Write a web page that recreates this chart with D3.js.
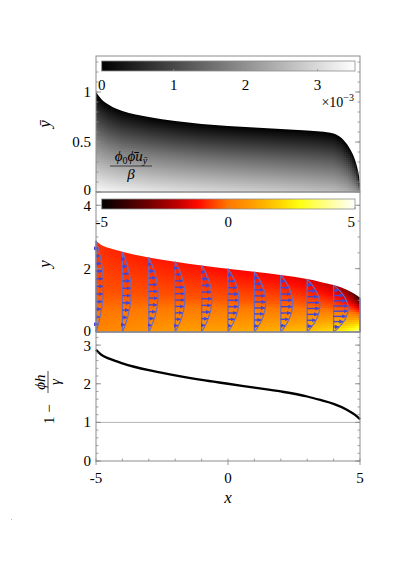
<!DOCTYPE html>
<html>
<head>
<meta charset="utf-8">
<script src="https://cdn.jsdelivr.net/npm/d3@7"></script>
<style>
  body { margin: 0; background: #fff; }
</style>
</head>
<body>
<script>
// ---- data ----

// top curve of the first panel (y-bar)
var hbarX = [-5, -4.8, -4.5, -4, -3, -2, -1, 0, 1, 2, 3, 3.5, 4, 4.3, 4.6, 4.8, 4.9, 4.95, 5];
var hbarY = [1.0, 0.93, 0.87, 0.81, 0.75, 0.71, 0.68, 0.66, 0.645, 0.63, 0.615, 0.605, 0.585, 0.54, 0.44, 0.33, 0.24, 0.18, 0.08];

// film thickness, same as 1 - phi h / gamma in the last panel
var hX = [-5, -4.8, -4.5, -4, -3, -2, -1, 0, 1, 2, 3, 3.5, 4, 4.5, 4.8, 5];
var hY = [2.88, 2.75, 2.65, 2.53, 2.35, 2.22, 2.1, 2.0, 1.9, 1.8, 1.67, 1.58, 1.48, 1.33, 1.2, 1.08];

// grey field (units of 1e-3) at bottom / middle / top of the layer
var grayX = [-5, -4, -2, 0, 2, 3, 4, 4.5, 4.8, 5];
var grayBot = [3.45, 3.3, 3.1, 2.95, 2.8, 2.7, 2.6, 2.45, 2.2, 2.0];
var grayMid = [1.85, 1.75, 1.65, 1.55, 1.45, 1.4, 1.35, 1.25, 1.1, 0.9];
var grayTop = [0, 0, 0, 0, 0, 0, 0, 0, 0, 0];

// colour field of the middle panel
var heatX = [-5, -4, -2, 0, 2, 3, 4, 4.5, 4.8, 5];
var heatBot = [0.3, 0.5, 0.9, 1.1, 1.4, 1.7, 2.3, 2.9, 3.5, 4.2];
var heatMid = [-0.45, -0.45, -0.4, -0.35, -0.3, -0.25, -0.25, -0.2, -0.1, 0];
var heatTop = [-0.8, -0.95, -1.1, -1.25, -1.4, -1.6, -2.0, -2.7, -3.5, -4.6];

// velocity profiles
var profX = [-5, -4, -3, -2, -1, 0, 1, 2, 3, 4];
var profUmax = [0.28, 0.33, 0.35, 0.37, 0.39, 0.41, 0.43, 0.45, 0.48, 0.55];
var profArrows = [11, 10, 10, 10, 9, 9, 9, 8, 8, 8];
var shapeS = [0, 0.1, 0.2, 0.3, 0.4, 0.5, 0.6, 0.7, 0.8, 0.9, 1];
var shapeU = [0, 0.36, 0.64, 0.84, 0.96, 1, 0.96, 0.84, 0.64, 0.36, 0];

// ticks
var xTicks = [-5, 0, 5];
var y1Ticks = [0, 0.5, 1];
var y2Ticks = [0, 2, 4];
var y3Ticks = [0, 1, 2, 3];
var cb1Ticks = [0, 1, 2, 3];
var cb2Ticks = [-5, 0, 5];

// ---- layout ----
var svgWidth = 399, svgHeight = 564;
var left = 96, right = 360;
var p1Top = 56, p1Bot = 192, p2Bot = 332, p3Bot = 461;
var frameColor = "#8c8c8c";
var serif = "'Liberation Serif', 'Times New Roman', 'DejaVu Serif', serif";

var svg = d3.select("body").append("svg")
  .attr("width", svgWidth)
  .attr("height", svgHeight)
  .attr("font-family", serif);

var xScale = d3.scaleLinear().domain([-5, 5]).range([left, right]);
var y1 = d3.scaleLinear().domain([0, 1.36]).range([p1Bot, p1Top]);
var y2 = d3.scaleLinear().domain([0, 4.42]).range([p2Bot, p1Bot]);
var y3 = d3.scaleLinear().domain([0, 3.34]).range([p3Bot, p2Bot]);

var hbarAt = d3.scaleLinear().domain(hbarX).range(hbarY).clamp(true);
var hAt = d3.scaleLinear().domain(hX).range(hY).clamp(true);

var grayColor = d3.scaleLinear().domain([0, 3.52]).range(["#000", "#fff"]).clamp(true);
var hotStops = [[-5, "#000000"], [-4, "#3c0000"], [-3, "#7a0000"], [-2, "#c00000"], [-1.2, "#ff0a00"],
  [-0.5, "#ff4a00"], [0, "#ff7800"], [1, "#ffa000"], [2, "#ffd200"], [2.8, "#ffff10"], [4, "#ffff9a"], [5, "#ffffff"]];
var hotColor = d3.scaleLinear().domain(hotStops.map(d => d[0])).range(hotStops.map(d => d[1])).clamp(true);

var defs = svg.append("defs");

// draws a smooth field as small cells under a curve
function drawField(g, yScale, topAt, fx, fBot, fMid, fTop, colorScale, clipId, curveX, curveY) {
  var bAt = d3.scaleLinear().domain(fx).range(fBot);
  var mAt = d3.scaleLinear().domain(fx).range(fMid);
  var tAt = d3.scaleLinear().domain(fx).range(fTop);
  var area = d3.area()
    .x((d, i) => xScale(curveX[i]))
    .y0(yScale(0))
    .y1(d => yScale(d))
    .curve(d3.curveMonotoneX);
  defs.append("clipPath").attr("id", clipId)
    .append("path").attr("d", area(curveY));
  var cells = [];
  var step = 2;
  for (var px = left; px < right; px += step) {
    var x = xScale.invert(px + step / 2);
    var top = topAt(x);
    var vs = d3.scaleLinear().domain([0, 0.5, 1]).range([bAt(x), mAt(x), tAt(x)]).clamp(true);
    for (var py = yScale(0); py > yScale(top) - step * 2; py -= step) {
      var s = yScale.invert(py - step / 2) / top;
      cells.push({ px: px, py: py - step, v: vs(s) });
    }
  }
  g.append("g").attr("clip-path", "url(#" + clipId + ")")
    .selectAll("rect").data(cells).enter().append("rect")
    .attr("x", d => d.px).attr("y", d => d.py)
    .attr("width", step + 0.3).attr("height", step + 0.3)
    .attr("fill", d => colorScale(d.v))
    .attr("shape-rendering", "crispEdges");
}

// ---- panel 1: grey field ----
var g1 = svg.append("g");
drawField(g1, y1, hbarAt, grayX, grayBot, grayMid, grayTop, grayColor, "clip1", hbarX, hbarY);

// ---- panel 2: colour field + profiles ----
var g2 = svg.append("g");
drawField(g2, y2, hAt, heatX, heatBot, heatMid, heatTop, hotColor, "clip2", hX, hY);

defs.append("marker").attr("id", "head")
  .attr("viewBox", "0 0 10 10").attr("refX", 9).attr("refY", 5)
  .attr("markerWidth", 3).attr("markerHeight", 3).attr("orient", "auto")
  .attr("markerUnits", "strokeWidth")
  .append("path").attr("d", "M0,0 L10,5 L0,10 Z").attr("fill", "#4646d2");

var shapeAt = d3.scaleLinear().domain(shapeS).range(shapeU);

var profG = g2.append("g");
profX.forEach(function(x0, i) {
  var h = hAt(x0);
  var umax = profUmax[i];
  var line = d3.line()
    .x(d => xScale(x0 + umax * shapeAt(d)))
    .y(d => y2(d * h))
    .curve(d3.curveCatmullRom);
  profG.append("path").attr("d", line(shapeS))
    .attr("fill", "none").attr("stroke", "#6c6cc0").attr("stroke-width", 1.2);
  profG.append("line")
    .attr("x1", xScale(x0)).attr("x2", xScale(x0))
    .attr("y1", y2(0)).attr("y2", y2(h))
    .attr("stroke", "#6a6ac4").attr("stroke-width", 1.3);
  var n = profArrows[i];
  var ks = d3.range(1, n + 1);
  profG.selectAll(null).data(ks).enter().append("line")
    .attr("x1", xScale(x0))
    .attr("x2", k => xScale(x0 + umax * shapeAt(k / (n + 1))) - 0.5)
    .attr("y1", k => y2(h * k / (n + 1)))
    .attr("y2", k => y2(h * k / (n + 1)))
    .attr("stroke", "#4646d2").attr("stroke-width", 1.4)
    .attr("marker-end", "url(#head)");
});
// wall lines
g2.append("line")
  .attr("x1", xScale(5)).attr("x2", xScale(5))
  .attr("y1", y2(0)).attr("y2", y2(hAt(5)))
  .attr("stroke", "#5a5ad0").attr("stroke-width", 1.4);
g2.append("line")
  .attr("x1", xScale(-5)).attr("x2", xScale(5))
  .attr("y1", y2(0)).attr("y2", y2(0))
  .attr("stroke", "#7070c8").attr("stroke-width", 1.2);

// ---- panel 3: curve ----
var g3 = svg.append("g");
g3.append("line")
  .attr("x1", left).attr("x2", right)
  .attr("y1", y3(1)).attr("y2", y3(1))
  .attr("stroke", "#b4b4b4").attr("stroke-width", 1);
var line3 = d3.line()
  .x((d, i) => xScale(hX[i]))
  .y(d => y3(d))
  .curve(d3.curveMonotoneX);
g3.append("path").attr("d", line3(hY))
  .attr("fill", "none").attr("stroke", "#000").attr("stroke-width", 2.3);

// ---- frames and ticks ----
function frame(yTop, yBot) {
  svg.append("rect")
    .attr("x", left).attr("y", yTop)
    .attr("width", right - left).attr("height", yBot - yTop)
    .attr("fill", "none").attr("stroke", frameColor).attr("stroke-width", 1);
}
frame(p1Top, p1Bot);
frame(p1Bot, p2Bot);
frame(p2Bot, p3Bot);

function yTicksFor(yScale, majors, minorStep, maxV, dyFn) {
  var g = svg.append("g");
  var minors = d3.range(0, maxV + 1e-9, minorStep);
  [left, right].forEach(function(ax) {
    var dir = ax === left ? 1 : -1;
    g.selectAll(null).data(minors).enter().append("line")
      .attr("x1", ax).attr("x2", ax + dir * 2.5)
      .attr("y1", d => yScale(d)).attr("y2", d => yScale(d))
      .attr("stroke", frameColor).attr("stroke-width", 0.8);
    g.selectAll(null).data(majors).enter().append("line")
      .attr("x1", ax).attr("x2", ax + dir * 5)
      .attr("y1", d => yScale(d)).attr("y2", d => yScale(d))
      .attr("stroke", frameColor).attr("stroke-width", 0.9);
  });
  g.selectAll(null).data(majors).enter().append("text")
    .attr("x", left - 5).attr("y", d => yScale(d) + dyFn(d))
    .attr("text-anchor", "end").attr("font-size", 15)
    .text(d => d);
}
yTicksFor(y1, y1Ticks, 0.1, 1.36, d => d === 0 ? 3 : 5);
yTicksFor(y2, y2Ticks, 0.5, 4.42, d => d === 4 ? 6 : (d === 0 ? 4 : 5));
yTicksFor(y3, y3Ticks, 0.2, 3.34, d => d === 3 ? 6 : 5);

// bottom x axis
var xg = svg.append("g");
xg.selectAll(null).data(d3.range(-5, 5.01, 1)).enter().append("line")
  .attr("x1", d => xScale(d)).attr("x2", d => xScale(d))
  .attr("y1", p3Bot).attr("y2", p3Bot - 2.5)
  .attr("stroke", frameColor).attr("stroke-width", 0.8);
xg.selectAll(null).data(xTicks).enter().append("line")
  .attr("x1", d => xScale(d)).attr("x2", d => xScale(d))
  .attr("y1", p3Bot).attr("y2", p3Bot + 4)
  .attr("stroke", frameColor).attr("stroke-width", 0.9);
xg.selectAll(null).data(xTicks).enter().append("text")
  .attr("x", d => xScale(d)).attr("y", 483)
  .attr("text-anchor", "middle").attr("font-size", 15)
  .text(d => d);
svg.append("text").attr("font-style", "italic")
  .attr("x", xScale(0)).attr("y", 503)
  .attr("text-anchor", "middle").attr("font-size", 17)
  .text("x");

// ---- colour bars ----
function colorBar(id, y0, scale, stops, ticks, anchorFn, labelY) {
  var grad = defs.append("linearGradient").attr("id", id)
    .attr("x1", "0%").attr("x2", "100%").attr("y1", "0%").attr("y2", "0%");
  var dom = scale.domain();
  grad.selectAll("stop").data(stops).enter().append("stop")
    .attr("offset", d => ((d[0] - dom[0]) / (dom[1] - dom[0]) * 100) + "%")
    .attr("stop-color", d => d[1]);
  svg.append("rect")
    .attr("x", scale.range()[0]).attr("y", y0)
    .attr("width", scale.range()[1] - scale.range()[0]).attr("height", 10)
    .attr("fill", "url(#" + id + ")")
    .attr("stroke", frameColor).attr("stroke-width", 0.8);
  svg.selectAll(null).data(ticks).enter().append("line")
    .attr("x1", d => scale(d)).attr("x2", d => scale(d))
    .attr("y1", y0 + 10).attr("y2", y0 + 8)
    .attr("stroke", frameColor).attr("stroke-width", 0.8);
  svg.selectAll(null).data(ticks).enter().append("text")
    .attr("x", d => scale(d)).attr("y", labelY)
    .attr("text-anchor", anchorFn).attr("font-size", 15)
    .text(d => d);
}
var cb1 = d3.scaleLinear().domain([0, 3.52]).range([101.7, 355]);
colorBar("gradGray", 61, cb1, [[0, "#000"], [3.52, "#fff"]], cb1Ticks, "middle", 90);
var cb2 = d3.scaleLinear().domain([-5, 5]).range([101.7, 355]);
colorBar("gradHot", 199, cb2, hotStops, cb2Ticks, d => d === 5 ? "end" : "middle", 227);

var exp = svg.append("text").attr("x", 354).attr("y", 107).attr("text-anchor", "end").attr("font-size", 14);
exp.append("tspan").text("\u00d710");
exp.append("tspan").attr("dy", -6).attr("font-size", 10).text("\u22123");

// ---- axis titles ----
svg.append("text").attr("font-style", "italic")
  .attr("transform", "translate(50,124) rotate(-90)")
  .attr("text-anchor", "middle").attr("font-size", 17)
  .text("\u0233");
svg.append("text").attr("font-style", "italic")
  .attr("transform", "translate(50,264) rotate(-90)")
  .attr("text-anchor", "middle").attr("font-size", 17)
  .text("y");

var t3 = svg.append("g").attr("transform", "translate(48,400) rotate(-90)");
t3.append("text").attr("x", -24).attr("y", 5.5).attr("font-size", 15).text("1 \u2212");
t3.append("line").attr("x1", 7).attr("x2", 29).attr("y1", 0).attr("y2", 0)
  .attr("stroke", "#222").attr("stroke-width", 0.8);
t3.append("text").attr("font-style", "italic").attr("x", 18).attr("y", -3.5)
  .attr("text-anchor", "middle").attr("font-size", 15).text("\u03d5h");
t3.append("text").attr("font-style", "italic").attr("x", 18).attr("y", 12)
  .attr("text-anchor", "middle").attr("font-size", 15).text("\u03b3");

// in-plot label of panel 1
var lab = svg.append("g");
var num = lab.append("text").attr("font-style", "italic")
  .attr("x", 131).attr("y", 161).attr("text-anchor", "middle").attr("font-size", 15);
num.append("tspan").text("\u03d5");
num.append("tspan").attr("dy", 3).attr("font-size", 10).attr("font-style", "normal").text("0");
num.append("tspan").attr("dy", -3).text("\u03d5\u0304u");
num.append("tspan").attr("dy", 3).attr("font-size", 10).text("\u0233");
lab.append("line").attr("x1", 110).attr("x2", 152).attr("y1", 166).attr("y2", 166)
  .attr("stroke", "#222").attr("stroke-width", 0.8);
lab.append("text").attr("font-style", "italic")
  .attr("x", 131).attr("y", 179).attr("text-anchor", "middle").attr("font-size", 15)
  .text("\u03b2");

// small stray mark at the lower left of the page
svg.append("rect").attr("x", 11).attr("y", 519).attr("width", 1).attr("height", 1).attr("fill", "#bbb");
</script>
</body>
</html>
